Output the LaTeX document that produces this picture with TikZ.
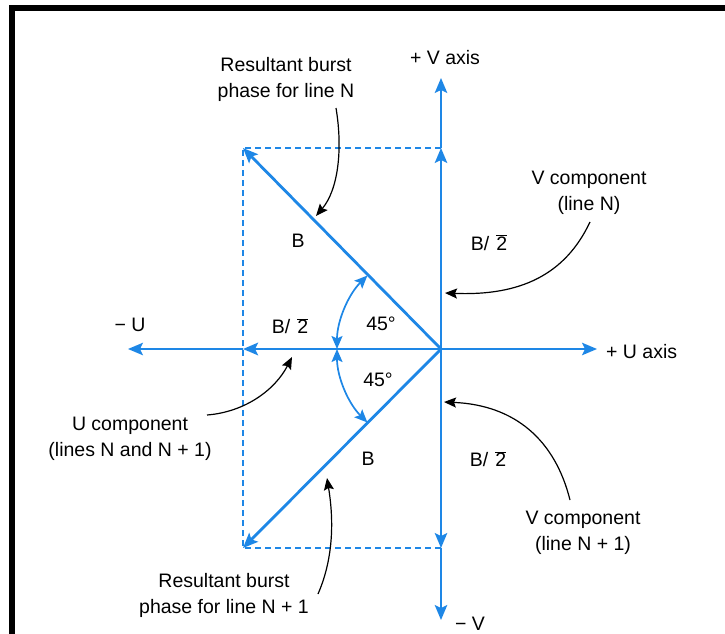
\documentclass[tikz,border=0pt]{standalone}
\usepackage{fontspec}
\setmainfont{Liberation Sans}
\usetikzlibrary{arrows.meta}
\definecolor{vblue}{RGB}{30,135,230}
\newcommand{\bsq}{B/\hspace{7pt}$\overline{\mbox{2}}$}
\begin{document}
\begin{tikzpicture}[x=1pt,y=-1pt,
 lbl/.style={font=\fontsize{19.5}{26}\selectfont, inner sep=0pt, align=center},
 ax/.style={draw=vblue, line width=1.9pt},
 vec/.style={draw=vblue, line width=2.8pt},
 bt/.style={-{Stealth[length=15pt,width=12.5pt,inset=3pt]}},
 dsh/.style={draw=vblue, line width=1.3pt, dash pattern=on 6pt off 4pt},
 callout/.style={draw=black, line width=1.2pt, -{Stealth[length=12pt,width=10pt,inset=2pt]}},
 arcs/.style={draw=vblue, line width=1.7pt, {Stealth[length=13pt,width=11pt,inset=2.5pt]}-{Stealth[length=13pt,width=11pt,inset=2.5pt]}}
]
\useasboundingbox (0,0) rectangle (725,634);
\fill[black] (9,5) rectangle (725,11);
\fill[black] (9,5) rectangle (15,634);

\coordinate (O) at (441,349);
\coordinate (Vtop) at (441,78);
\coordinate (Vbot) at (441,620);
\coordinate (Vp) at (441,148);
\coordinate (Vm) at (441,548);
\coordinate (Ul) at (128,349);
\coordinate (Ur) at (597,349);
\coordinate (Uc) at (243,349);
\coordinate (R1) at (243,148);
\coordinate (R2) at (243,548);
\coordinate (A1) at (337,349);

% dashed rectangle
\draw[dsh] (Vp) -- (R1) -- (R2) -- (Vm);

% axes
\draw[ax,bt] (Vp) -- (Vtop);
\draw[ax,bt] (O) -- (Vp);
\draw[ax,bt] (O) -- (Vm);
\draw[ax,bt] (Vm) -- (Vbot);
\draw[ax,bt] (Uc) -- (Ul);
\draw[ax,bt] (O) -- (Ur);
\draw[vec,bt] (O) -- (Uc);

% resultants
\draw[vec,bt] (O) -- (R1);
\draw[vec,bt] (O) -- (R2);

% angle arcs
\draw[arcs] (A1) arc[start angle=180,end angle=225,radius=104];
\draw[arcs] (A1) arc[start angle=180,end angle=135,radius=104];

% labels
\node[lbl] (rbn) at (286,79) {Resultant burst\\phase for line N};
\node[lbl] (vax) at (445,58) {+ V axis};
\node[lbl] (B1) at (298,241) {B};
\node[lbl] (vcn) at (589,193) {V component\\(line N)};
\node[lbl] (bv1) at (489,243) {\bsq};
\node[lbl] (a1) at (381,324) {45°};
\node[lbl] (mu) at (130,325) {− U};
\node[lbl] (bu) at (290,326) {\bsq};
\node[lbl, anchor=west] (pu) at (606,352) {+ U axis};
\node[lbl] (ucomp) at (130,439) {U component\\(lines N and N + 1)};
\node[lbl] (a2) at (378,380) {45°};
\node[lbl] (B2) at (368,459) {B};
\node[lbl] (bv2) at (488,459) {\bsq};
\node[lbl] (vcn1) at (583,533) {V component\\(line N + 1)};
\node[lbl] (rbn1) at (224,595) {Resultant burst\\phase for line N + 1};
\node[lbl] (mv) at (470,624) {− V};

% callout curves
\coordinate (c1s) at (336,108); \coordinate (c1e) at (316,216);
\coordinate (c2s) at (590,222); \coordinate (c2e) at (445,293);
\coordinate (c3s) at (570,500); \coordinate (c3e) at (444,402);
\coordinate (c4s) at (207,415); \coordinate (c4e) at (292,357);
\coordinate (c5s) at (318,594); \coordinate (c5e) at (327,478);
\draw[callout] (c1s) .. controls (343,150) and (338,190) .. (c1e);
\draw[callout] (c2s) .. controls (565,275) and (520,296) .. (c2e);
\draw[callout] (c3s) .. controls (555,440) and (515,405) .. (c3e);
\draw[callout] (c4s) .. controls (245,412) and (275,390) .. (c4e);
\draw[callout] (c5s) .. controls (335,555) and (333,515) .. (c5e);
\end{tikzpicture}
\end{document}
